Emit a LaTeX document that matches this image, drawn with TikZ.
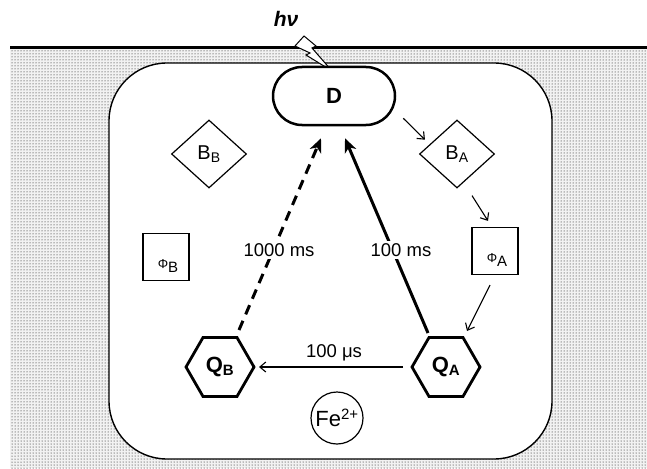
\documentclass[tikz,border=0pt]{standalone}
\usepackage{fontspec}
\setmainfont{Liberation Sans}
\usetikzlibrary{shapes.geometric,patterns,arrows.meta,calc}

\begin{document}
\begin{tikzpicture}[x=1pt,y=-1pt,
  thinbox/.style={draw, line width=1.2pt, fill=white, inner sep=0pt},
  diam/.style={thinbox, diamond, minimum width=75pt, minimum height=68pt, font=\fontsize{20}{20}\selectfont},
  sqbox/.style={thinbox, rectangle, minimum width=46pt, minimum height=47pt},
  hexa/.style={draw, line width=2.8pt, fill=white, regular polygon, regular polygon sides=6,
    minimum size=68pt, inner sep=0pt, font=\bfseries\fontsize{22}{22}\selectfont},
  dbox/.style={draw, line width=2.5pt, fill=white, rectangle, rounded corners=29pt,
    minimum width=122pt, minimum height=58pt, font=\bfseries\fontsize{22}{22}\selectfont},
  thinarrow/.style={line width=1.1pt, -{Straight Barb[length=6pt,width=10pt,line width=1.1pt]}},
  fastarrow/.style={line width=3pt, -{Stealth[length=14pt,width=12pt,inset=4pt]}},
  slowarrow/.style={fastarrow, dash pattern=on 10pt off 7pt},
  ratelabel/.style={fill=white, inner sep=2pt, font=\fontsize{18.5}{18.5}\selectfont}
]
\useasboundingbox (0,0) rectangle (647,468);

% membrane background
\fill[black!5] (10,49) rectangle (647,468);
\fill[pattern=dots, pattern color=black] (10,49) rectangle (647,468);
\draw[line width=1.4pt, fill=white, rounded corners=58pt] (109,63) rectangle (552,459);
\draw[line width=3pt] (10,48) -- (647,48);

% light quantum
\draw[line width=1pt, fill=white, line join=miter]
  (295,46) -- (304,36) -- (316,46) -- (312,48) -- (332,71) -- (306,55) -- (310,53) -- cycle;
\node[font=\bfseries\itshape\fontsize{21}{21}\selectfont] (hv) at (286,19) {hν};

% components
\node[dbox] (D) at (334,96) {D};
\node[diam] (BB) at (209,154) {B\textsubscript{\fontsize{14}{14}\selectfont B}};
\node[diam] (BA) at (457,154) {B\textsubscript{\fontsize{14}{14}\selectfont A}};
\node[sqbox] (PB) at (166,257) {};
\node[sqbox] (PA) at (495,251) {};
\node[font=\fontsize{13}{13}\selectfont] (PBt) at (168,266) {Φ\raisebox{-4pt}{\fontsize{15}{15}\selectfont B}};
\node[font=\fontsize{13}{13}\selectfont] (PAt) at (497,260) {Φ\raisebox{-4pt}{\fontsize{15}{15}\selectfont A}};
\node[hexa] (QB) at (220,367) {Q\textsubscript{\fontsize{15}{15}\selectfont B}};
\node[hexa] (QA) at (446,367) {Q\textsubscript{\fontsize{15}{15}\selectfont A}};
\node[thinbox, circle, minimum size=52pt, font=\fontsize{22}{22}\selectfont] (Fe) at (337,418)
  {Fe\textsuperscript{\fontsize{15}{15}\selectfont 2+}};

% electron transfer steps
\draw[thinarrow] ($(D.south east)+(7,-8)$) -- ($(BA.north west)+(-13,3)$);
\draw[thinarrow] ($(BA.south)+(15,7)$) -- ($(PA.north)+(-7,-6)$);
\draw[thinarrow] ($(PA.south)+(-5,10)$) -- ($(QA.center)+(21,-36)$);
\draw[thinarrow] ($(QA.center)+(-43,0)$) -- ($(QB.center)+(39,0)$);
\node[ratelabel, fill=none] (t1) at (334,353) {100 μs};

% recombination routes
\draw[fastarrow] ($(QA.center)+(-18,-34)$) -- ($(D.south)+(11,12)$);
\draw[slowarrow] ($(QB.center)+(19,-37)$) -- ($(D.south)+(-13,12)$);
\node[ratelabel] (t2) at (401,250) {100 ms};
\node[ratelabel] (t3) at (279,250) {1000 ms};
\end{tikzpicture}
\end{document}
